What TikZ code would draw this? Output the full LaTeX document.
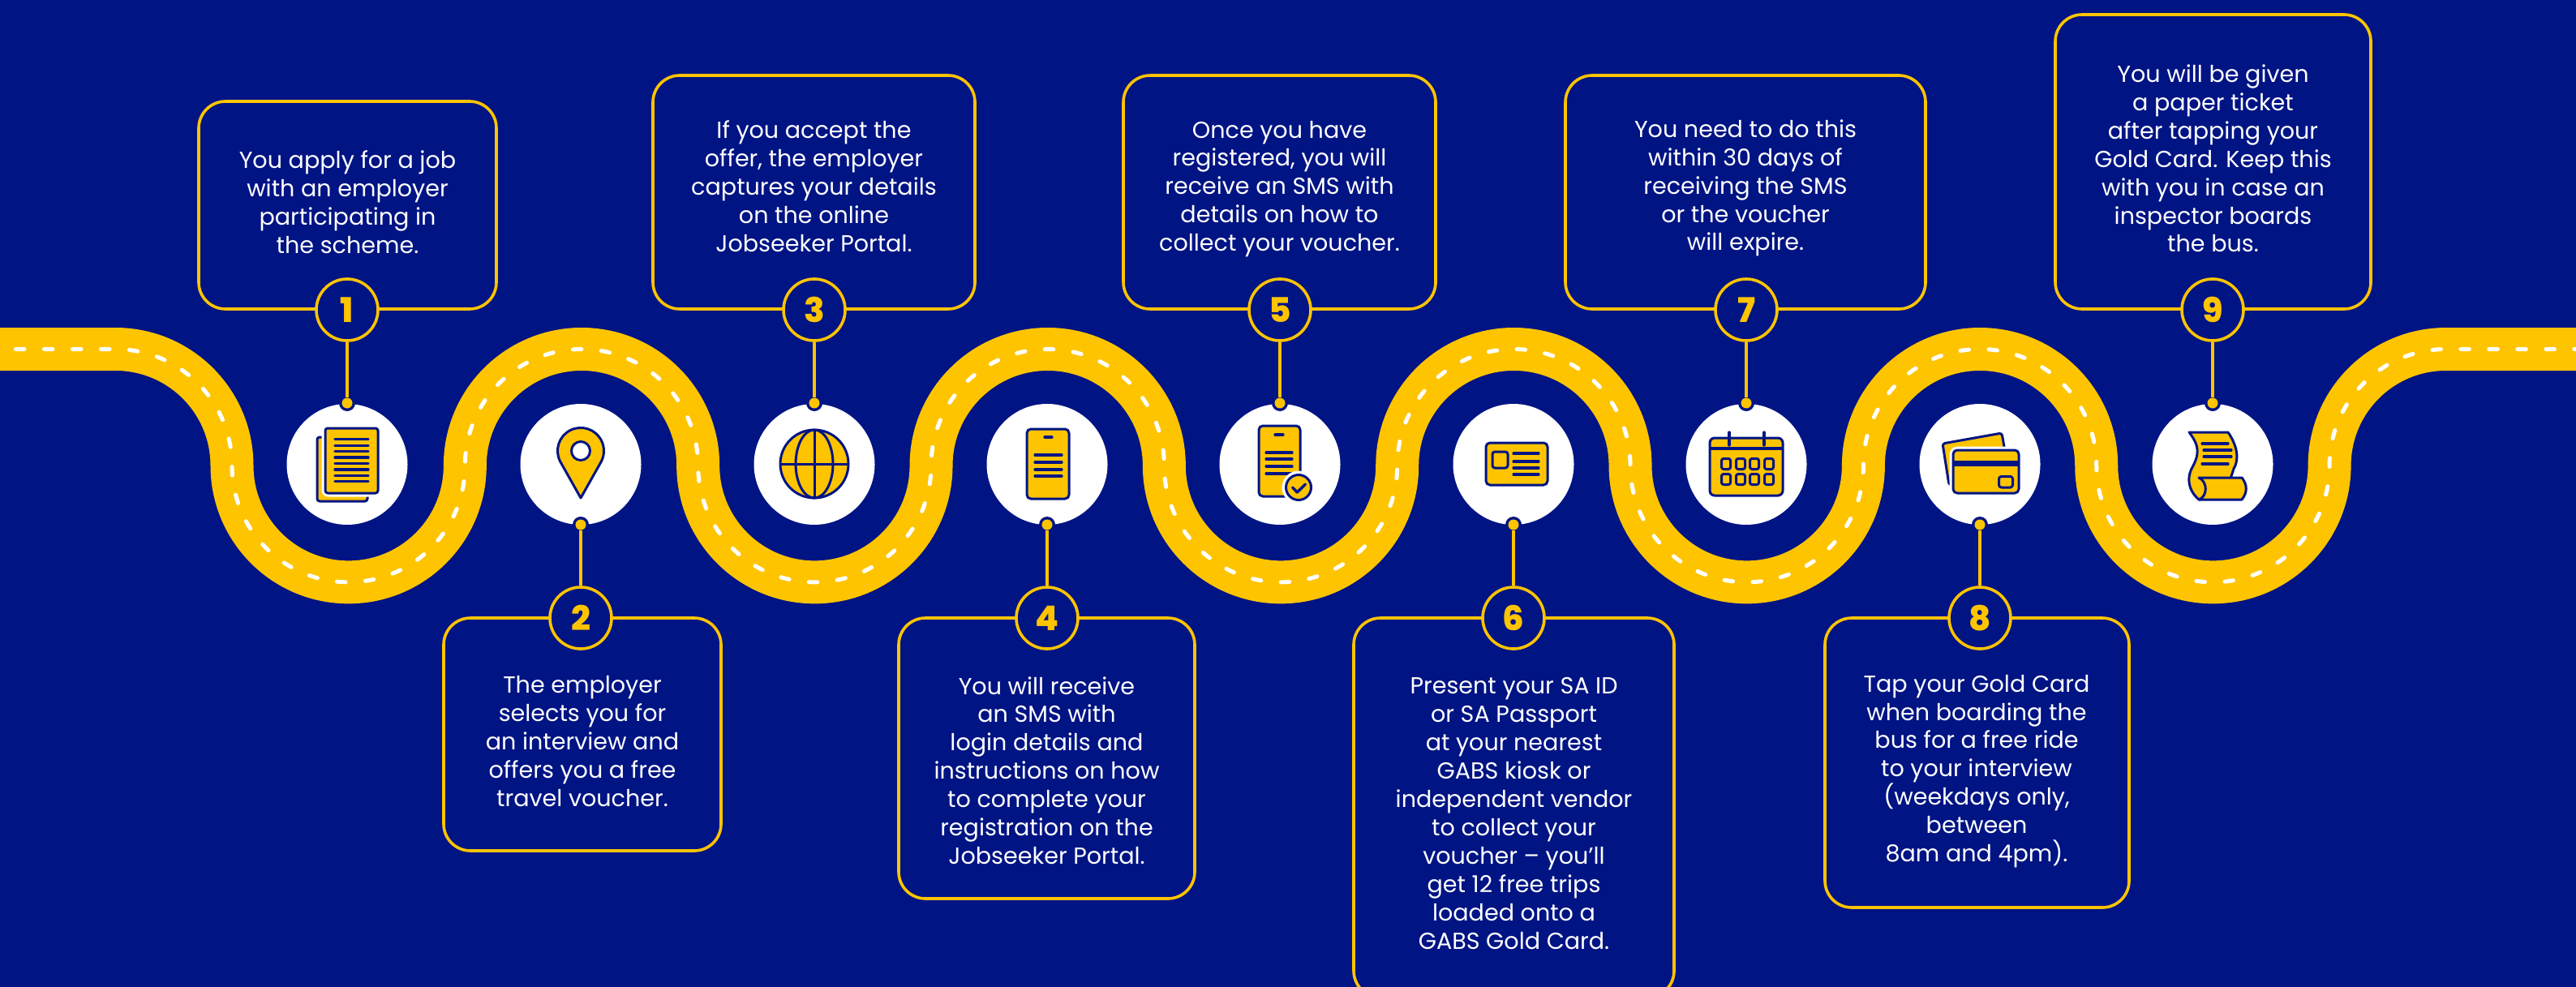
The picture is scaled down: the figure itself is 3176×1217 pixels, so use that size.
\documentclass[tikz,border=0pt]{standalone}
\usepackage{fontspec}
\setmainfont{Poppins}
\newfontfamily\numfont{Poppins ExtraBold}
\definecolor{navy}{HTML}{001484}
\definecolor{gold}{HTML}{FFC400}
\tikzset{
  x=1pt,y=1pt,
  boxst/.style={draw=gold,line width=3.6pt,rounded corners=33pt,inner sep=0pt,fill=navy},
  txt/.style={text=white,align=center,font=\fontsize{28.6}{34.9}\selectfont,inner sep=0pt},
  num/.style={circle,draw=gold,line width=3.6pt,fill=navy,minimum size=76pt,inner sep=0pt,text=gold,font=\fontsize{42}{42}\selectfont\numfont},
  disc/.style={circle,fill=white,minimum size=149pt,inner sep=0pt},
  link/.style={draw=gold,line width=3.6pt},
  ring/.style={circle,fill=navy,minimum size=20pt,inner sep=0pt},
  dot/.style={circle,fill=gold,minimum size=13pt,inner sep=0pt},
  ico/.style={draw=navy,fill=gold,line width=3pt,line join=round},
  icol/.style={draw=navy,line width=3.2pt,line cap=round},
  halo/.style={draw=white,fill=white,line width=9pt,line join=round},
}
\begin{document}
\begin{tikzpicture}
\useasboundingbox (0,-1217) rectangle (3176,0);
\clip (0,-1217) rectangle (3176,0);
\fill[navy] (0,-1217) rectangle (3176,0);
% road
\def\roadpath{(0,-430.5) -- (142.33,-430.5)
  arc[start angle=90,end angle=0,radius=143.67pt]
  arc[start angle=180,end angle=360,radius=143.67pt]
  arc[start angle=180,end angle=0,radius=143.67pt]
  arc[start angle=180,end angle=360,radius=143.67pt]
  arc[start angle=180,end angle=0,radius=143.67pt]
  arc[start angle=180,end angle=360,radius=143.67pt]
  arc[start angle=180,end angle=0,radius=143.67pt]
  arc[start angle=180,end angle=360,radius=143.67pt]
  arc[start angle=180,end angle=0,radius=143.67pt]
  arc[start angle=180,end angle=360,radius=143.67pt]
  arc[start angle=180,end angle=90,radius=143.67pt]
  -- (3176,-430.5)}
\draw[gold,line width=53pt] \roadpath;
\draw[white,line width=5pt,line cap=round,dash pattern=on 10.5pt off 24.5pt,dash phase=15.5pt] \roadpath;
% white discs
\node[disc] (c1) at (428,-572.5) {};
\node[disc] (c2) at (716,-572.5) {};
\node[disc] (c3) at (1004,-572.5) {};
\node[disc] (c4) at (1291,-572.5) {};
\node[disc] (c5) at (1578,-572.5) {};
\node[disc] (c6) at (1866,-572.5) {};
\node[disc] (c7) at (2153,-572.5) {};
\node[disc] (c8) at (2441,-572.5) {};
\node[disc] (c9) at (2728,-572.5) {};
% boxes
\node[boxst,minimum width=367pt,minimum height=256pt] (b1) at (428.5,-253) {};
\node[boxst,minimum width=397pt,minimum height=288pt] (b3) at (1003.5,-237) {};
\node[boxst,minimum width=385pt,minimum height=288pt] (b5) at (1577.5,-237) {};
\node[boxst,minimum width=444pt,minimum height=288pt] (b7) at (2152,-237) {};
\node[boxst,minimum width=389pt,minimum height=363pt] (b9) at (2728.5,-199.5) {};
\node[boxst,minimum width=342pt,minimum height=287pt] (b2) at (718,-905.5) {};
\node[boxst,minimum width=365pt,minimum height=346pt] (b4) at (1290.5,-935) {};
\node[boxst,minimum width=395pt,minimum height=468pt] (b6) at (1866.5,-996) {};
\node[boxst,minimum width=375pt,minimum height=357pt] (b8) at (2437.5,-940.5) {};
% texts
\node[txt] (t1) at (428.5,-249.5) {You apply for a job\\with an employer\\participating in\\the scheme.};
\node[txt] (t3) at (1003.5,-230) {If you accept the\\offer, the employer\\captures your details\\on the online\\Jobseeker Portal.};
\node[txt] (t5) at (1577.5,-233) {Once you have\\registered, you will\\receive an SMS with\\details on how to\\collect your voucher.};
\node[txt] (t7) at (2152,-232) {You need to do this\\within 30 days of\\receiving the SMS\\or the voucher\\will expire.};
\node[txt] (t9) at (2728.5,-195.5) {You will be given\\a paper ticket\\after tapping your\\Gold Card. Keep this\\with you in case an\\inspector boards\\the bus.};
\node[txt] (t2) at (718,-914) {The employer\\selects you for\\an interview and\\offers you a free\\travel voucher.};
\node[txt] (t4) at (1290.5,-950) {You will receive\\an SMS with\\login details and\\instructions on how\\to complete your\\registration on the\\Jobseeker Portal.};
\node[txt] (t6) at (1866.5,-1003) {Present your SA ID\\or SA Passport\\at your nearest\\GABS kiosk or\\independent vendor\\to collect your\\voucher – you’ll\\get 12 free trips\\loaded onto a\\GABS Gold Card.};
\node[txt] (t8) at (2437,-951) {Tap your Gold Card\\when boarding the\\bus for a free ride\\to your interview\\(weekdays only,\\between\\8am and 4pm).};
% number circles
\node[num] (n1) at (428,-382) {1};
\node[num] (n3) at (1004,-382) {3};
\node[num] (n5) at (1578,-382) {5};
\node[num] (n7) at (2153,-382) {7};
\node[num] (n9) at (2728,-382) {9};
\node[num] (n2) at (716,-762) {2};
\node[num] (n4) at (1291,-762) {4};
\node[num] (n6) at (1866,-762) {6};
\node[num] (n8) at (2441,-762) {8};
% rings and dots
\foreach \n/\x in {1/428,3/1004,5/1578,7/2153,9/2728}{
  \node[ring] (r\n) at (\x,-497) {};
  \node[dot] (d\n) at (\x,-497) {};
  \draw[link] (n\n) -- (d\n);
}
\foreach \n/\x in {2/716,4/1291,6/1866,8/2441}{
  \node[ring] (r\n) at (\x,-647) {};
  \node[dot] (d\n) at (\x,-647) {};
  \draw[link] (n\n) -- (d\n);
}
% icon 1: documents
\draw[ico,rounded corners=3pt] (391,-539) rectangle (453,-618);
\draw[halo,rounded corners=3pt] (401,-528) rectangle (466,-608);
\draw[ico,rounded corners=3pt] (401,-528) rectangle (466,-608);
\foreach \yy in {541.7,549.1,556.6,564,571.4,578.9,586.3,593.7}
  \draw[icol] (413,-\yy) -- (454,-\yy);
% icon 2: pin
\draw[ico] (716,-614) -- (690.6,-568.9) arc[start angle=207,end angle=-27,radius=28.5pt] -- cycle;
\draw[draw=navy,fill=white,line width=3pt] (716,-556) circle[radius=11.5pt];
% icon 3: globe
\draw[ico] (1004,-572) circle[radius=42pt];
\draw[draw=navy,line width=3pt] (1004,-572) ellipse[x radius=23pt,y radius=42pt];
\draw[draw=navy,line width=3pt] (1004,-530) -- (1004,-614) (962,-572) -- (1046,-572);
% icon 4: phone
\draw[ico,rounded corners=5pt] (1266,-529) rectangle (1318,-615);
\draw[icol] (1288,-539) -- (1297,-539);
\foreach \yy in {561,570,579,587} \draw[icol] (1276,-\yy) -- (1309,-\yy);
% icon 5: phone with check
\draw[ico,rounded corners=5pt] (1552,-525) rectangle (1603,-612);
\draw[icol] (1572,-536) -- (1582,-536);
\foreach \yy in {558,566,575,584} \draw[icol] (1561,-\yy) -- (1593,-\yy);
\fill[white] (1601,-601) circle[radius=20.5pt];
\draw[ico] (1601,-601) circle[radius=15.5pt];
\draw[draw=navy,line width=3.4pt,line cap=round,line join=round] (1593.5,-601) -- (1599.3,-607) -- (1609.5,-597);
% icon 6: id card
\draw[ico,rounded corners=5pt] (1832,-546) rectangle (1908,-598);
\draw[ico,rounded corners=3pt] (1840,-557) rectangle (1859,-577);
\foreach \yy in {559,569,577,585} \draw[icol] (1866,-\yy) -- (1897,-\yy);
% icon 7: calendar
\draw[ico,rounded corners=6pt] (2108,-540) rectangle (2198,-611);
\draw[icol,line cap=butt] (2108,-553) -- (2198,-553);
\draw[icol] (2132,-533) -- (2132,-549) (2175,-533) -- (2175,-549);
\foreach \yy in {572,591} \foreach \xx in {2128,2146,2163,2181}
  \draw[ico,rounded corners=2.5pt] (\xx-5.5,-\yy-6.5) rectangle (\xx+5.5,-\yy+6.5);
% icon 8: cards
\draw[ico,rounded corners=3pt] (2395,-547) -- (2468,-534) -- (2478,-590) -- (2403,-598) -- cycle;
\draw[halo,rounded corners=5pt] (2408,-555) rectangle (2489,-608);
\draw[ico,rounded corners=5pt] (2408,-555) rectangle (2489,-608);
\fill[navy] (2409,-568) rectangle (2488,-575);
\draw[ico,rounded corners=3pt] (2464.5,-587.5) rectangle (2481.5,-601);
% icon 9: receipt
\draw[ico] (2699,-533) -- (2747,-533) .. controls (2760,-552) and (2760,-568) .. (2754,-578) -- (2750,-590) -- (2750,-610) -- (2711,-616) .. controls (2698,-605) and (2696,-590) .. (2702,-578) .. controls (2712,-560) and (2712,-550) .. (2699,-533) -- cycle;
\draw[ico] (2711,-589) -- (2764,-589) .. controls (2771,-598) and (2771,-607) .. (2764,-616) -- (2711,-616) .. controls (2722,-612) and (2722,-594) .. (2711,-589) -- cycle;
\draw[icol] (2715,-547) -- (2747,-547) (2717,-555) -- (2751,-555) (2717,-563) -- (2751,-563) (2715,-572) -- (2747,-572);
\end{tikzpicture}
\end{document}
